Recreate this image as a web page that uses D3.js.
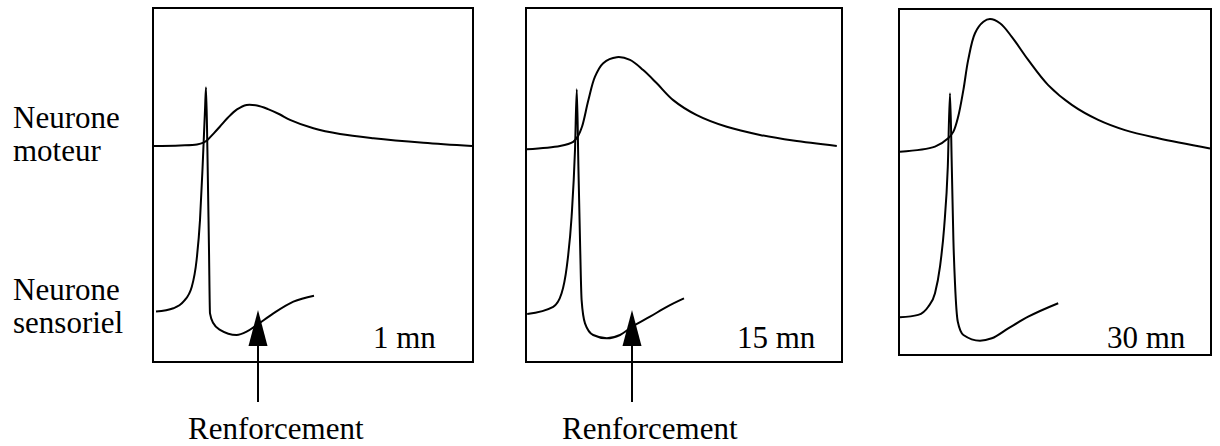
<!DOCTYPE html>
<html><head><meta charset="utf-8">
<script src="https://cdn.jsdelivr.net/npm/d3@7"></script>
<style>
html,body{margin:0;padding:0;background:#fff;}
svg{display:block;}
text{font-family:"Liberation Serif","Times New Roman",serif;font-size:31px;fill:#000;}
</style>
</head><body>
<svg id="chart" width="1220" height="446"></svg>
<script>
// ---- data (time in ms, potential in mV) ----
const panelLabels = ["1 mn", "15 mn", "30 mn"];
const rowLabels = [["Neurone", "moteur"], ["Neurone", "sensoriel"]];
const arrowLabel = "Renforcement";
const arrowTimes = [26.25, 26.5, null];

const motor1 = [[0,-16],[6.75,-15.8],[11,-15.5],[12.6,-14.9],[13.75,-13.8],[15.25,-11.7],[16.75,-9.5],[18.75,-6.5],[21,-3.8],[23.4,-2.3],[26,-2.5],[28.75,-3.7],[31.75,-5.5],[34.25,-7.3],[40.1,-10.1],[46.75,-12],[55.1,-13.4],[67.6,-14.9],[79.75,-16]];
const sensory1 = [[0.75,-71.2],[5.1,-70.1],[7.6,-67.9],[9.7,-62.9],[10.9,-54],[11.75,-40.7],[12.4,-22.9],[13,-4],[13.25,3.6],[13.6,-17.3],[14,-50.7],[14.25,-71.8],[15.1,-75.1],[16.75,-77.3],[20.9,-79],[23.4,-77.9],[25.9,-75.7],[30.1,-71.8],[35.1,-67.9],[40.25,-65.9]];

const motor2 = [[0.2,-17.1],[8.5,-16],[11.8,-14.6],[13,-12.7],[14,-9.6],[15.6,-0.7],[17.25,7.1],[19.3,11.6],[22.7,13.6],[26,12.7],[29.3,9.3],[32.7,4.9],[36.8,-0.7],[42.7,-5.7],[50.2,-9.6],[58.5,-12.3],[66.8,-14.2],[77.7,-16]];
const sensory2 = [[0.3,-72],[6.8,-69.6],[8.9,-65.1],[10.2,-56.2],[11.4,-39.6],[12.25,-17.3],[12.7,2.9],[13.1,-22.9],[13.5,-47.3],[13.9,-67.3],[14.75,-75.1],[16.8,-79],[20.2,-80.1],[23.5,-79],[26.8,-76],[31,-72.9],[35.2,-69.6],[39.5,-66.8]];

const motor3 = [[0.25,-17.9],[9,-16.2],[12.3,-13.4],[13.6,-11.2],[14.8,-6.2],[16.1,2.7],[17.3,12.7],[19,21.6],[21.1,25.4],[22.75,26.3],[25.25,24.9],[28.2,20.4],[32.3,12.7],[37.3,4.3],[43.2,-2.3],[49.8,-7.3],[56.5,-10.7],[64.8,-13.4],[77.75,-16.8]];
const sensory3 = [[0.25,-73.1],[4.8,-72.3],[7.3,-69.6],[9,-65.1],[10.25,-56.2],[11.3,-42.9],[12.2,-22.9],[12.75,1.6],[13.2,-22.9],[13.6,-47.3],[14,-61.8],[14.7,-74.6],[16.1,-79],[20.25,-80.9],[23.2,-80.1],[27.3,-76.8],[32.3,-72.9],[39.8,-68.4]];

const motorSeries = [motor1, motor2, motor3];
const sensorySeries = [sensory1, sensory2, sensory3];

// ---- layout ----
const panels = [
  {x0:153, x1:473, y0:8, y1:362, labelX:373},
  {x0:526, x1:842, y0:8, y1:362, labelX:737},
  {x0:899, x1:1211, y0:9, y1:355, labelX:1107}
];
const svg = d3.select("#chart");
const y = d3.scaleLinear().domain([-88, 30]).range([362, 8]);

panels.forEach((p, i) => {
  const x = d3.scaleLinear().domain([0, 80]).range([p.x0, p.x0 + 320]);
  const g = svg.append("g");
  g.append("rect").attr("x", p.x0).attr("y", p.y0)
    .attr("width", p.x1 - p.x0).attr("height", p.y1 - p.y0)
    .attr("fill", "none").attr("stroke", "#000").attr("stroke-width", 2);
  const smooth = d3.line().x(d => x(d[0])).y(d => y(d[1])).curve(d3.curveCatmullRom.alpha(0.5));
  const spiky = d3.line().x(d => x(d[0])).y(d => y(d[1])).curve(d3.curveMonotoneX);
  g.append("path").attr("d", smooth(motorSeries[i]))
    .attr("fill", "none").attr("stroke", "#000").attr("stroke-width", 2);
  g.append("path").attr("d", spiky(sensorySeries[i]))
    .attr("fill", "none").attr("stroke", "#000").attr("stroke-width", 2);
  g.append("text").attr("x", p.labelX).attr("y", 348).text(panelLabels[i]);
  if (arrowTimes[i] != null) {
    const ax = x(arrowTimes[i]);
    g.append("path").attr("d", `M${ax},310 L${ax-9.5},346 L${ax+9.5},346 Z`).attr("fill", "#000");
    g.append("line").attr("x1", ax).attr("x2", ax).attr("y1", 346).attr("y2", 402)
      .attr("stroke", "#000").attr("stroke-width", 2);
    g.append("text").attr("x", ax - 70).attr("y", 439).text(arrowLabel);
  }
});

// row labels
const rowBase = [128, 300];
rowLabels.forEach((lines, r) => {
  lines.forEach((t, k) => {
    svg.append("text").attr("x", 13).attr("y", rowBase[r] + k * 33).text(t);
  });
});
</script>
</body></html>
